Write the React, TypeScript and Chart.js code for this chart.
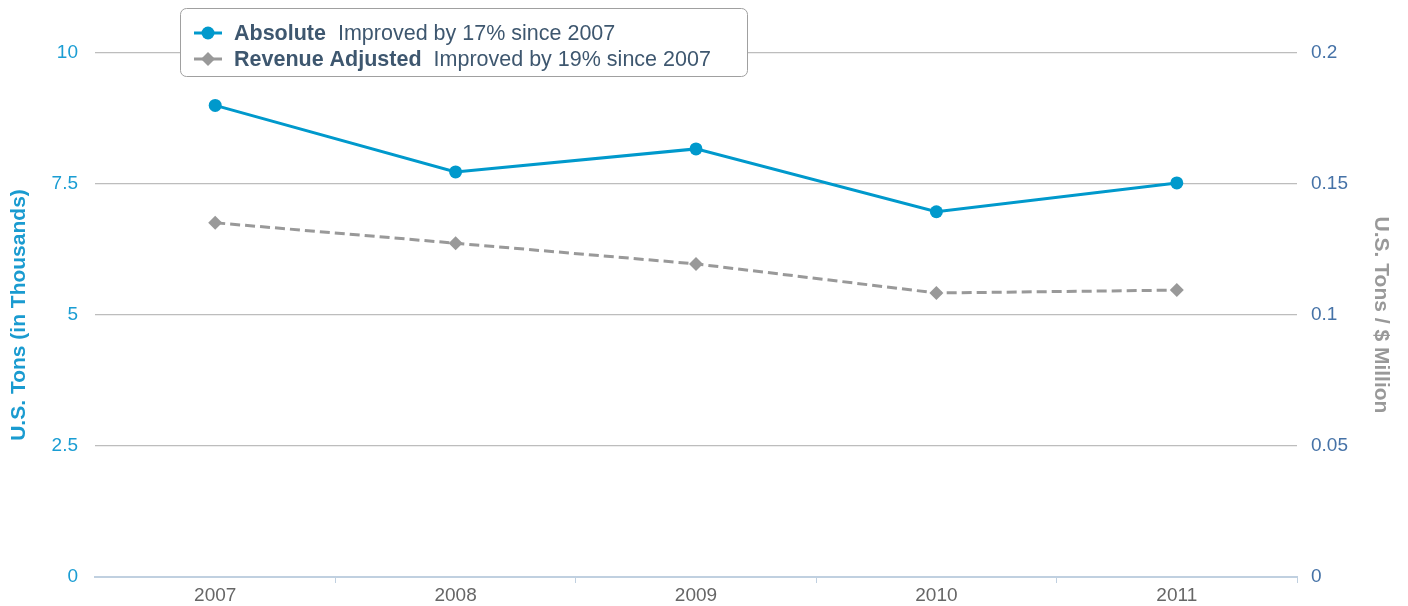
import React, { useEffect, useRef } from 'react';
import { Chart, registerables } from 'chart.js';

Chart.register(...registerables);

const years = ['2007', '2008', '2009', '2010', '2011'];
const absoluteTons = [9.0, 7.73, 8.17, 6.97, 7.52];
const revenueAdjusted = [0.1352, 0.1274, 0.1195, 0.1084, 0.1095];
const leftTicks = [0, 2.5, 5, 7.5, 10];
const rightTicks = [0, 0.05, 0.1, 0.15, 0.2];
const legendNames = ['Absolute', 'Revenue Adjusted'];
const legendNotes = ['Improved by 17% since 2007', 'Improved by 19% since 2007'];
const leftTitle = 'U.S. Tons (in Thousands)';
const rightTitle = 'U.S. Tons / $ Million';

const FONT = '"Liberation Sans", Arial, Helvetica, sans-serif';
const BLUE = '#0099CC';
const GRAY = '#999999';

const legendPlugin = {
  id: 'customLegend',
  afterDraw(chart: any) {
    const ctx = chart.ctx as CanvasRenderingContext2D;
    ctx.save();
    ctx.beginPath();
    ctx.roundRect(180.5, 8.5, 567, 68, 6);
    ctx.fillStyle = '#ffffff';
    ctx.fill();
    ctx.lineWidth = 1;
    ctx.strokeStyle = '#a0a0a0';
    ctx.stroke();

    legendNames.forEach((name, i) => {
      const cy = 33 + i * 26;
      const color = i === 0 ? BLUE : GRAY;
      ctx.strokeStyle = color;
      ctx.fillStyle = color;
      ctx.lineWidth = 3;
      ctx.beginPath();
      ctx.moveTo(194, cy);
      ctx.lineTo(222, cy);
      ctx.stroke();
      ctx.beginPath();
      if (i === 0) {
        ctx.arc(208, cy, 6.5, 0, Math.PI * 2);
      } else {
        ctx.moveTo(208 - 7, cy);
        ctx.lineTo(208, cy - 7);
        ctx.lineTo(208 + 7, cy);
        ctx.lineTo(208, cy + 7);
        ctx.closePath();
      }
      ctx.fill();

      ctx.fillStyle = '#3E576F';
      ctx.textBaseline = 'middle';
      ctx.textAlign = 'left';
      ctx.font = `bold 21.5px ${FONT}`;
      ctx.fillText(name, 234, cy + 1);
      const w = ctx.measureText(name).width;
      ctx.font = `21.5px ${FONT}`;
      ctx.fillText(legendNotes[i], 234 + w + 12, cy + 1);
    });
    ctx.restore();
  },
};

export default function App() {
  const ref = useRef<HTMLCanvasElement | null>(null);

  useEffect(() => {
    document.body.style.margin = '0';
    const canvas = ref.current;
    if (!canvas) return;
    const chart = new Chart(canvas, {
      type: 'line',
      data: {
        labels: years,
        datasets: [
          {
            label: legendNames[0],
            data: absoluteTons,
            yAxisID: 'y',
            borderColor: BLUE,
            backgroundColor: BLUE,
            borderWidth: 3,
            pointRadius: 6.5,
            pointBorderWidth: 0,
            pointBackgroundColor: BLUE,
            pointStyle: 'circle',
            tension: 0,
          },
          {
            label: legendNames[1],
            data: revenueAdjusted,
            yAxisID: 'y1',
            borderColor: GRAY,
            backgroundColor: GRAY,
            borderWidth: 3,
            borderDash: [10, 5],
            pointRadius: 7,
            pointBorderWidth: 0,
            pointBackgroundColor: GRAY,
            pointStyle: 'rectRot',
            tension: 0,
          },
        ],
      },
      options: {
        animation: false,
        responsive: false,
        maintainAspectRatio: false,
        layout: { padding: { top: 53, left: 0, right: 0, bottom: 0 } },
        plugins: {
          legend: { display: false },
          tooltip: { enabled: false },
          title: { display: false },
        },
        scales: {
          x: {
            type: 'category',
            offset: true,
            afterFit: (s: any) => {
              s.height = 29;
            },
            border: { display: true, color: '#C0D0E0', width: 2 },
            grid: {
              offset: true,
              drawOnChartArea: false,
              drawTicks: true,
              tickLength: 6,
              color: (c: any) => (c.type === 'tick' && c.index === 0 ? 'rgba(0,0,0,0)' : '#C0D0E0'),
              lineWidth: 1,
            },
            ticks: {
              color: '#666666',
              font: { family: FONT, size: 19 },
              padding: 1,
              maxRotation: 0,
            },
          },
          y: {
            type: 'linear',
            position: 'left',
            min: 0,
            max: 10,
            afterBuildTicks: (s: any) => {
              s.ticks = leftTicks.map((v) => ({ value: v }));
            },
            afterFit: (s: any) => {
              s.width = 95;
            },
            border: { display: false },
            grid: {
              drawTicks: false,
              color: (c: any) => (c.tick && c.tick.value === 0 ? 'rgba(0,0,0,0)' : '#BDBDBD'),
              lineWidth: 1.2,
            },
            ticks: {
              color: '#1A9DD3',
              font: { family: FONT, size: 19 },
              padding: 17,
              callback: (v: any) => String(v),
            },
            title: {
              display: true,
              text: leftTitle,
              color: '#1A9BD0',
              font: { family: FONT, size: 21, weight: 'bold' },
              padding: { top: 7, bottom: 0 },
            },
          },
          y1: {
            type: 'linear',
            position: 'right',
            min: 0,
            max: 0.2,
            afterBuildTicks: (s: any) => {
              s.ticks = rightTicks.map((v) => ({ value: v }));
            },
            afterFit: (s: any) => {
              s.width = 111;
            },
            border: { display: false },
            grid: { drawOnChartArea: false, drawTicks: false },
            ticks: {
              color: '#4572A7',
              font: { family: FONT, size: 19 },
              padding: 14,
              callback: (v: any) => String(v),
            },
            title: {
              display: true,
              text: rightTitle,
              color: '#999999',
              font: { family: FONT, size: 21, weight: 'bold' },
              padding: { top: 15, bottom: 0 },
            },
          },
        },
      },
      plugins: [legendPlugin],
    });
    return () => chart.destroy();
  }, []);

  return (
    <div style={{ width: 1408, height: 606, position: 'relative', background: '#fff' }}>
      <canvas ref={ref} width={1408} height={606} style={{ display: 'block' }} />
    </div>
  );
}
